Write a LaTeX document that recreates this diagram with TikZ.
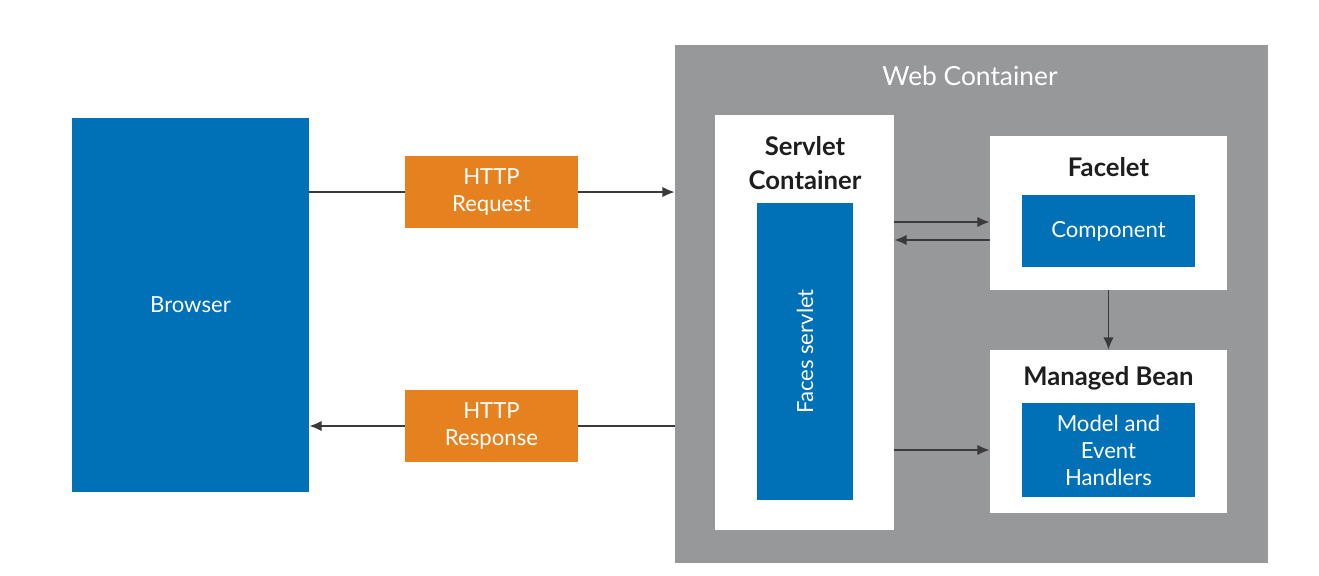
\documentclass[tikz,border=0pt]{standalone}
\usepackage{fontspec}
\setmainfont{Lato}
\usetikzlibrary{arrows.meta}

\definecolor{boxblue}{RGB}{0,112,183}
\definecolor{boxorange}{RGB}{229,130,31}
\definecolor{webgray}{RGB}{151,152,154}
\definecolor{arrowgray}{RGB}{58,58,60}
\definecolor{titleblack}{RGB}{30,30,30}

\tikzset{
  bluebox/.style={rectangle, fill=boxblue, text=white, align=center, inner sep=0pt,
    font=\fontsize{12.6}{15.4}\selectfont},
  httpbox/.style={rectangle, fill=boxorange, text=white, align=center, inner sep=0pt,
    minimum width=3.46cm, minimum height=1.44cm, font=\fontsize{12.6}{15.4}\selectfont},
  whitebox/.style={rectangle, fill=white, inner sep=0pt},
  title/.style={text=titleblack, align=center, font=\bfseries\fontsize{14.6}{19.3}\selectfont},
  arr/.style={draw=arrowgray, line width=1.1pt, -{Latex[length=7pt,width=6pt]}}
}

\begin{document}
\begin{tikzpicture}[x=0.02cm,y=-0.02cm]
\useasboundingbox[fill=white] (0,0) rectangle (1319,575);

\node[bluebox, minimum width=4.74cm, minimum height=7.48cm] (browser) at (190.5,305) {Browser};
\node[httpbox] (req) at (491.5,192) {HTTP\\Request};
\node[httpbox] (resp) at (491.5,426) {HTTP\\Response};

\node[rectangle, fill=webgray, minimum width=11.86cm, minimum height=10.36cm] (webc) at (971.5,304) {};
\node[text=white, font=\fontsize{15}{18}\selectfont] (webtitle) at (970,76) {Web Container};

\node[whitebox, minimum width=3.58cm, minimum height=8.3cm] (servlet) at (804.5,322.5) {};
\node[title] (servlettitle) at (805,163) {Servlet\\Container};
\node[bluebox, rotate=90, minimum width=5.94cm, minimum height=1.92cm] (faces) at (805,351.5) {Faces servlet};

\node[whitebox, minimum width=4.74cm, minimum height=3.08cm] (facelet) at (1108.5,213) {};
\node[title] (facelettitle) at (1108.5,167) {Facelet};
\node[bluebox, minimum width=3.46cm, minimum height=1.44cm] (comp) at (1108.5,231) {Component};

\node[whitebox, minimum width=4.74cm, minimum height=3.26cm] (bean) at (1108.5,431.5) {};
\node[title] (beantitle) at (1108.5,378) {Managed Bean};
\node[bluebox, minimum width=3.46cm, minimum height=1.88cm] (model) at (1108.5,450) {Model and\\Event\\Handlers};

% request / response
\draw[draw=arrowgray, line width=1.1pt] (browser.east |- req.west) -- (req.west);
\draw[arr] (req.east) -- (req.east -| webc.west);
\draw[draw=arrowgray, line width=1.1pt] (webc.west |- resp.east) -- (resp.east);
\draw[arr] (resp.west) -- (resp.west -| browser.east);

% inside the web container
\draw[arr] (servlet.east |- 0,222) -- (facelet.west |- 0,222);
\draw[arr] (facelet.west |- 0,240) -- (servlet.east |- 0,240);
\draw[arr] (servlet.east |- model.west) -- (bean.west |- model.west);
\draw[arr] (facelet.south) -- (bean.north);
\end{tikzpicture}
\end{document}
